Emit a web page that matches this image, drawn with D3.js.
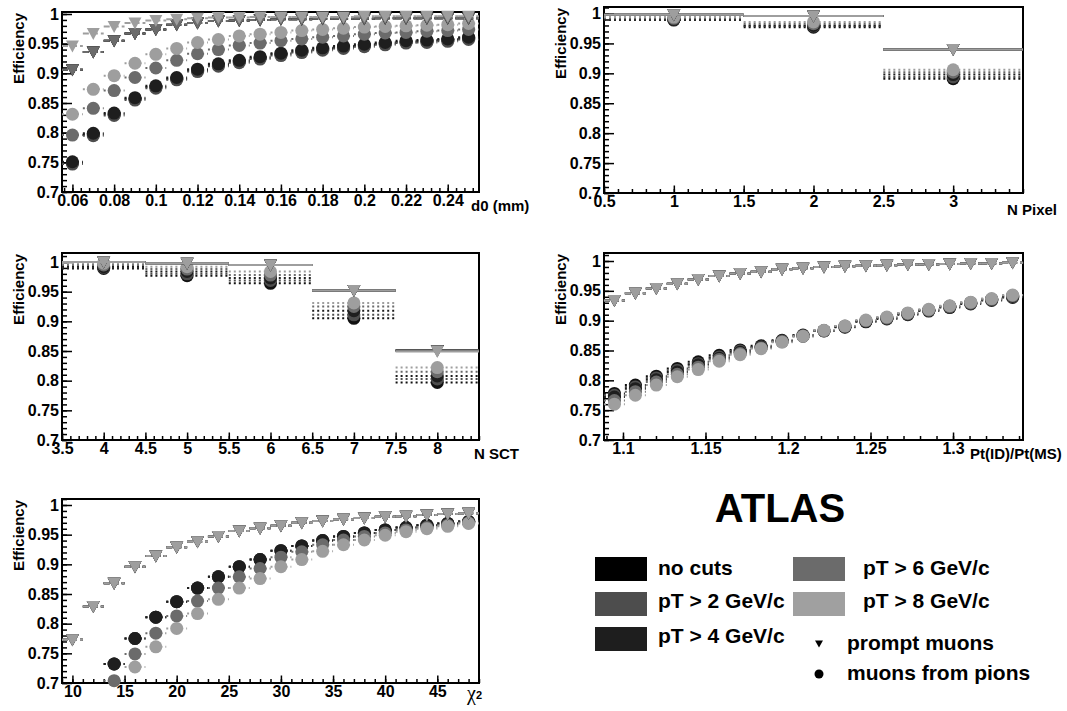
<!DOCTYPE html>
<html><head><meta charset="utf-8">
<script src="https://cdn.jsdelivr.net/npm/d3@7"></script>
<style>
body{margin:0;background:#fff;}
svg{display:block;font-family:"Liberation Sans",Arial,Helvetica,sans-serif;font-weight:bold;}
</style></head><body>
<svg id="chart" width="1067" height="711"></svg>
<script>
// ---------------- data ----------------
const cutNames = ["no cuts", "pT > 2 GeV/c", "pT > 4 GeV/c", "pT > 6 GeV/c", "pT > 8 GeV/c"];
const cutColors = ["#111111", "#4d4d4d", "#1e1e1e", "#6b6b6b", "#9e9e9e"];
const legendBoxColors = ["#000000", "#4d4d4d", "#1e1e1e", "#6b6b6b", "#a0a0a0"];
const markerLegend = ["prompt muons", "muons from pions"];
const yTickValues = [0.7, 0.75, 0.8, 0.85, 0.9, 0.95, 1];
const yTickLabels = ["0.7", "0.75", "0.8", "0.85", "0.9", "0.95", "1"];

// d0 panel
const d0Bins = [0.06,0.07,0.08,0.09,0.10,0.11,0.12,0.13,0.14,0.15,0.16,0.17,0.18,0.19,0.20,0.21,0.22,0.23,0.24,0.25];
const d0Prompt = [
  [0.906,0.936,0.955,0.967,0.974,0.982,0.985,0.988,0.989,0.990,0.991,0.991,0.992,0.992,0.992,0.993,0.993,0.993,0.993,0.993],
  [0.906,0.936,0.955,0.967,0.974,0.982,0.985,0.988,0.989,0.990,0.991,0.991,0.992,0.992,0.992,0.993,0.993,0.993,0.993,0.993],
  [0.906,0.936,0.955,0.967,0.974,0.982,0.985,0.988,0.989,0.990,0.991,0.991,0.992,0.992,0.992,0.993,0.993,0.993,0.993,0.993],
  [0.906,0.936,0.955,0.967,0.974,0.982,0.985,0.988,0.989,0.990,0.991,0.991,0.992,0.992,0.992,0.993,0.993,0.993,0.993,0.993],
  [0.946,0.967,0.979,0.985,0.989,0.991,0.993,0.994,0.994,0.995,0.995,0.995,0.995,0.995,0.996,0.996,0.996,0.996,0.996,0.996]
];
const d0Pions = [
  [0.749,0.797,0.831,0.857,0.877,0.891,0.905,0.914,0.920,0.926,0.932,0.937,0.941,0.944,0.947,0.950,0.953,0.954,0.956,0.959],
  [0.747,0.795,0.829,0.855,0.875,0.889,0.903,0.912,0.918,0.924,0.930,0.935,0.939,0.942,0.945,0.948,0.951,0.952,0.954,0.957],
  [0.751,0.799,0.833,0.859,0.879,0.893,0.907,0.916,0.922,0.928,0.934,0.939,0.943,0.946,0.949,0.952,0.955,0.956,0.958,0.961],
  [0.796,0.841,0.871,0.893,0.909,0.922,0.933,0.940,0.947,0.951,0.955,0.958,0.961,0.963,0.966,0.968,0.969,0.971,0.972,0.974],
  [0.831,0.873,0.896,0.917,0.932,0.942,0.952,0.957,0.963,0.966,0.969,0.972,0.974,0.976,0.978,0.979,0.980,0.981,0.982,0.984]
];
const d0TickValues = [0.06,0.08,0.10,0.12,0.14,0.16,0.18,0.20,0.22,0.24];
const d0TickLabels = ["0.06","0.08","0.1","0.12","0.14","0.16","0.18","0.2","0.22","0.24"];

// N Pixel panel
const pixBins = [1, 2, 3];
const pixPrompt = [
  [0.998, 0.996, 0.940],
  [0.998, 0.996, 0.940],
  [0.998, 0.996, 0.940],
  [0.998, 0.996, 0.940],
  [0.998, 0.996, 0.940]
];
const pixPions = [
  [0.989, 0.977, 0.891],
  [0.990, 0.979, 0.894],
  [0.990, 0.980, 0.898],
  [0.992, 0.983, 0.902],
  [0.994, 0.986, 0.906]
];
const pixTickValues = [0.5, 1, 1.5, 2, 2.5, 3];
const pixTickLabels = ["0.5", "1", "1.5", "2", "2.5", "3"];

// N SCT panel
const sctBins = [4, 5, 6, 7, 8];
const sctPrompt = [
  [1.000, 0.998, 0.995, 0.952, 0.851],
  [1.000, 0.998, 0.995, 0.952, 0.851],
  [1.000, 0.998, 0.995, 0.952, 0.851],
  [1.000, 0.998, 0.995, 0.952, 0.851],
  [1.000, 0.998, 0.995, 0.952, 0.849]
];
const sctPions = [
  [0.989, 0.977, 0.964, 0.905, 0.797],
  [0.991, 0.980, 0.969, 0.911, 0.803],
  [0.992, 0.984, 0.973, 0.918, 0.808],
  [0.995, 0.988, 0.978, 0.925, 0.815],
  [0.998, 0.992, 0.984, 0.931, 0.822]
];
const sctTickValues = [3.5, 4, 4.5, 5, 5.5, 6, 6.5, 7, 7.5, 8];
const sctTickLabels = ["3.5", "4", "4.5", "5", "5.5", "6", "6.5", "7", "7.5", "8"];

// Pt(ID)/Pt(MS) panel
const ptBins = [1.0948,1.1075,1.1202,1.1329,1.1456,1.1583,1.1710,1.1837,1.1964,1.2091,1.2218,1.2345,1.2472,1.2599,1.2726,1.2853,1.2980,1.3107,1.3234,1.3361];
const ptPrompt = [
  [0.934,0.946,0.954,0.962,0.969,0.975,0.979,0.982,0.986,0.988,0.990,0.991,0.992,0.993,0.994,0.994,0.995,0.996,0.996,0.997],
  [0.934,0.946,0.954,0.962,0.969,0.975,0.979,0.982,0.986,0.988,0.990,0.991,0.992,0.993,0.994,0.994,0.995,0.996,0.996,0.997],
  [0.934,0.946,0.954,0.962,0.969,0.975,0.979,0.982,0.986,0.988,0.990,0.991,0.992,0.993,0.994,0.994,0.995,0.996,0.996,0.997],
  [0.934,0.946,0.954,0.962,0.969,0.975,0.979,0.982,0.986,0.988,0.990,0.991,0.992,0.993,0.994,0.994,0.995,0.996,0.996,0.997],
  [0.934,0.946,0.954,0.962,0.969,0.975,0.979,0.982,0.986,0.988,0.990,0.991,0.992,0.993,0.994,0.994,0.995,0.996,0.996,0.997]
];
const ptPions = [
  [0.778,0.792,0.807,0.820,0.831,0.842,0.851,0.858,0.867,0.876,0.883,0.889,0.898,0.903,0.910,0.916,0.922,0.928,0.934,0.939],
  [0.775,0.789,0.804,0.817,0.828,0.839,0.849,0.856,0.866,0.875,0.883,0.890,0.899,0.904,0.911,0.917,0.923,0.929,0.935,0.940],
  [0.772,0.786,0.801,0.814,0.826,0.837,0.847,0.855,0.865,0.874,0.883,0.890,0.899,0.905,0.912,0.918,0.924,0.930,0.936,0.941],
  [0.766,0.781,0.797,0.810,0.822,0.835,0.845,0.854,0.865,0.874,0.883,0.891,0.900,0.905,0.912,0.918,0.924,0.930,0.936,0.942],
  [0.760,0.775,0.792,0.806,0.818,0.832,0.843,0.853,0.864,0.874,0.884,0.891,0.901,0.906,0.913,0.919,0.925,0.931,0.937,0.943]
];
const ptTickValues = [1.1, 1.15, 1.2, 1.25, 1.3];
const ptTickLabels = ["1.1", "1.15", "1.2", "1.25", "1.3"];

// chi2 panel
const chiBins = [10,12,14,16,18,20,22,24,26,28,30,32,34,36,38,40,42,44,46,48];
const chiPrompt = [
  [0.773,0.829,0.868,0.896,0.914,0.929,0.938,0.947,0.956,0.961,0.965,0.970,0.973,0.976,0.978,0.980,0.981,0.983,0.985,0.986],
  [0.773,0.829,0.868,0.896,0.914,0.929,0.938,0.947,0.956,0.961,0.965,0.970,0.973,0.976,0.978,0.980,0.981,0.983,0.985,0.986],
  [0.773,0.829,0.868,0.896,0.914,0.929,0.938,0.947,0.956,0.961,0.965,0.970,0.973,0.976,0.978,0.980,0.981,0.983,0.985,0.986],
  [0.773,0.829,0.868,0.896,0.914,0.929,0.938,0.947,0.956,0.961,0.965,0.970,0.973,0.976,0.978,0.980,0.981,0.983,0.985,0.986],
  [0.773,0.829,0.868,0.896,0.914,0.929,0.938,0.947,0.956,0.961,0.965,0.970,0.973,0.976,0.978,0.980,0.981,0.983,0.985,0.986]
];
const chiPions = [
  [null,null,0.732,0.775,0.811,0.837,0.860,0.879,0.896,0.908,0.923,0.931,0.940,0.947,0.953,0.958,0.962,0.966,0.969,0.972],
  [null,null,0.732,0.775,0.811,0.837,0.860,0.879,0.896,0.908,0.923,0.931,0.940,0.947,0.953,0.958,0.962,0.966,0.969,0.972],
  [null,null,0.732,0.775,0.811,0.837,0.860,0.879,0.896,0.908,0.923,0.931,0.940,0.947,0.953,0.958,0.962,0.966,0.969,0.972],
  [null,null,0.704,0.749,0.784,0.813,0.838,0.860,0.879,0.893,0.912,0.921,0.933,0.941,0.947,0.953,0.958,0.962,0.966,0.970],
  [null,null,null,0.727,0.761,0.792,0.817,0.841,0.860,0.876,0.896,0.908,0.922,0.933,0.941,0.949,0.955,0.960,0.964,0.969]
];
const chiTickValues = [10, 15, 20, 25, 30, 35, 40, 45];
const chiTickLabels = ["10", "15", "20", "25", "30", "35", "40", "45"];

// ---------------- drawing ----------------
const svg = d3.select("#chart");
const TRI = "M-6.5,-5.5L6.5,-5.5L0,6.5Z";

function multiples(lo, hi, step) {
  const out = [];
  const k0 = Math.ceil(lo / step - 1e-9), k1 = Math.floor(hi / step + 1e-9);
  for (let k = k0; k <= k1; k++) out.push(+(k * step).toFixed(6));
  return out;
}

function drawPanel(L, bins, binWidth, prompt, pions, xTicks, xLabels) {
  const x = d3.scaleLinear().domain(L.xDomain).range([L.left, L.right]);
  const y = d3.scaleLinear().domain([0.7, 1]).range([L.y07, L.y1]);
  const yMax = y.invert(L.top);
  const g = svg.append("g");

  // axes (ticks inward)
  const yAx = g.append("g").attr("transform", `translate(${L.left},0)`)
    .call(d3.axisLeft(y).tickValues(yTickValues)
      .tickFormat(d => yTickLabels[yTickValues.indexOf(d)]).tickSize(-10).tickPadding(3));
  const yMin = g.append("g").attr("transform", `translate(${L.left},0)`)
    .call(d3.axisLeft(y).tickValues(multiples(0.7, yMax, 0.01)).tickFormat("").tickSize(-5));
  const xAx = g.append("g").attr("transform", `translate(0,${L.y07})`)
    .call(d3.axisBottom(x).tickValues(xTicks)
      .tickFormat(d => xLabels[xTicks.indexOf(d)]).tickSize(-7.5).tickPadding(3));
  const xMin = g.append("g").attr("transform", `translate(0,${L.y07})`)
    .call(d3.axisBottom(x).tickValues(multiples(L.xDomain[0], L.xDomain[1], L.minor)).tickFormat("").tickSize(-4));
  [yAx, yMin, xAx, xMin].forEach(a => {
    a.attr("font-size", null).attr("font-family", null);
    a.select(".domain").remove();
    a.selectAll("line").attr("stroke", "#000").attr("stroke-width", 1.5);
    a.selectAll("text").attr("font-size", 16).attr("font-weight", "bold").attr("fill", "#000");
  });

  // frame
  g.append("rect").attr("x", L.left).attr("y", L.top)
    .attr("width", L.right - L.left).attr("height", L.y07 - L.top)
    .attr("fill", "none").attr("stroke", "#000").attr("stroke-width", 2);

  // y title
  g.append("text").attr("transform", `translate(${L.left - 38.5},${L.top + 1}) rotate(-90)`)
    .attr("text-anchor", "end").attr("font-size", 15).text("Efficiency");

  const inRange = v => v !== null && v >= 0.7 && v <= yMax;

  // pions (circles, dotted bars)
  pions.forEach((vals, s) => {
    const pts = bins.map((b, i) => ({b, v: vals[i]})).filter(d => inRange(d.v));
    g.append("g").selectAll("line").data(pts).join("line")
      .attr("x1", d => x(d.b - binWidth / 2)).attr("x2", d => x(d.b + binWidth / 2))
      .attr("y1", d => y(d.v)).attr("y2", d => y(d.v))
      .attr("stroke", cutColors[s]).attr("stroke-width", 2).attr("stroke-dasharray", "2,3");
    g.append("g").selectAll("circle").data(pts).join("circle")
      .attr("cx", d => x(d.b)).attr("cy", d => y(d.v)).attr("r", 6.5).attr("fill", cutColors[s]);
  });
  // prompt (triangles)
  prompt.forEach((vals, s) => {
    const pts = bins.map((b, i) => ({b, v: vals[i]})).filter(d => inRange(d.v));
    g.append("g").selectAll("line").data(pts).join("line")
      .attr("x1", d => x(d.b - binWidth / 2)).attr("x2", d => x(d.b + binWidth / 2))
      .attr("y1", d => y(d.v)).attr("y2", d => y(d.v))
      .attr("stroke", cutColors[s]).attr("stroke-width", 2)
      .attr("stroke-dasharray", L.solidPrompt ? null : "6,3");
    g.append("g").selectAll("path").data(pts).join("path")
      .attr("d", TRI).attr("transform", d => `translate(${x(d.b)},${y(d.v)})`)
      .attr("fill", cutColors[s]);
  });

  // x title
  const t = g.append("text").attr("x", L.titleX).attr("y", L.titleY).attr("font-size", 15);
  if (L.title === "chi2") {
    t.append("tspan").attr("font-family", "'Liberation Serif','DejaVu Serif',serif")
      .attr("font-weight", "normal").attr("font-size", 20).text("χ");
    t.append("tspan").attr("font-size", 11).attr("dy", -1).text("2");
  } else {
    t.text(L.title);
  }
}

drawPanel({left: 62, right: 479, top: 12, y1: 14, y07: 192, xDomain: [0.055, 0.255], minor: 0.004,
  title: "d0 (mm)", titleX: 471, titleY: 211, solidPrompt: false},
  d0Bins, 0.01, d0Prompt, d0Pions, d0TickValues, d0TickLabels);
drawPanel({left: 604, right: 1023, top: 7, y1: 13.5, y07: 193, xDomain: [0.5, 3.5], minor: 0.1,
  title: "N Pixel", titleX: 1007, titleY: 215, solidPrompt: true},
  pixBins, 1, pixPrompt, pixPions, pixTickValues, pixTickLabels);
drawPanel({left: 62, right: 479, top: 253, y1: 262, y07: 440, xDomain: [3.5, 8.5], minor: 0.1,
  title: "N SCT", titleX: 474, titleY: 459, solidPrompt: true},
  sctBins, 1, sctPrompt, sctPions, sctTickValues, sctTickLabels);
drawPanel({left: 604, right: 1023, top: 253, y1: 261, y07: 440, xDomain: [1.0885, 1.3424], minor: 0.01,
  title: "Pt(ID)/Pt(MS)", titleX: 970, titleY: 459, solidPrompt: false},
  ptBins, 0.0127, ptPrompt, ptPions, ptTickValues, ptTickLabels);
drawPanel({left: 62, right: 479, top: 499, y1: 505, y07: 683, xDomain: [9, 49], minor: 1,
  title: "chi2", titleX: 467, titleY: 700, solidPrompt: false},
  chiBins, 2, chiPrompt, chiPions, chiTickValues, chiTickLabels);

// ---------------- legend ----------------
const lg = svg.append("g");
lg.append("text").attr("x", 780).attr("y", 522).attr("text-anchor", "middle")
  .attr("font-size", 40).text("ATLAS");
const legendSlots = [
  {bx: 595, by: 557, tx: 658, ty: 575},
  {bx: 595, by: 592, tx: 658, ty: 608},
  {bx: 595, by: 627, tx: 658, ty: 643},
  {bx: 793, by: 557, tx: 863, ty: 575},
  {bx: 793, by: 592, tx: 863, ty: 608}
];
cutNames.forEach((name, i) => {
  const s = legendSlots[i];
  lg.append("rect").attr("x", s.bx).attr("y", s.by).attr("width", 52).attr("height", 24)
    .attr("fill", legendBoxColors[i]);
  lg.append("text").attr("x", s.tx).attr("y", s.ty).attr("font-size", 21).text(name);
});
lg.append("path").attr("d", "M-4,-3.5L4,-3.5L0,3.5Z").attr("transform", "translate(819,644)").attr("fill", "#000");
lg.append("text").attr("x", 847).attr("y", 650).attr("font-size", 21).text(markerLegend[0]);
lg.append("circle").attr("cx", 819).attr("cy", 674).attr("r", 4.5).attr("fill", "#000");
lg.append("text").attr("x", 847).attr("y", 680).attr("font-size", 21).text(markerLegend[1]);
</script>
</body></html>
